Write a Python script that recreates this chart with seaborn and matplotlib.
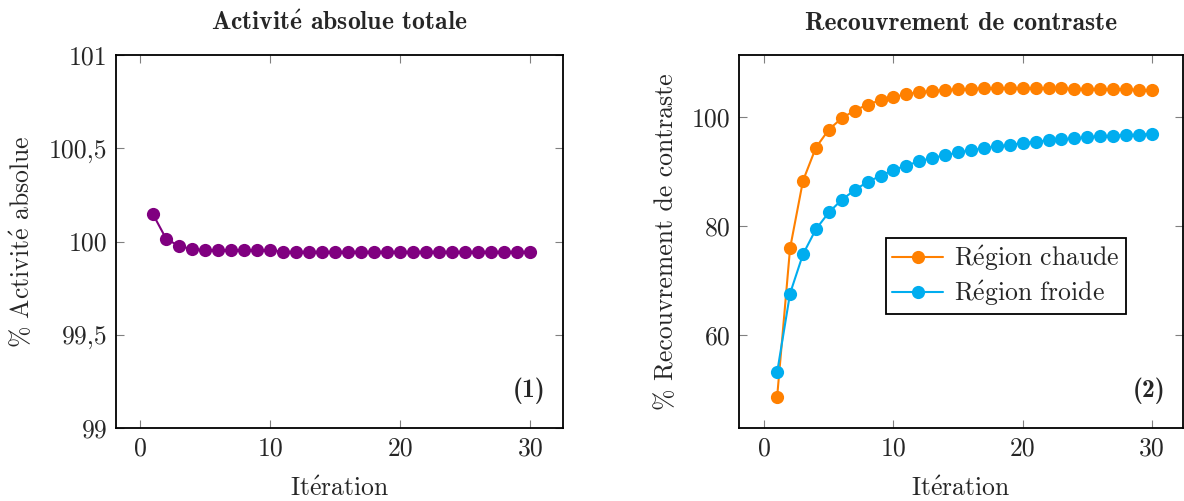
import numpy as np
import pandas as pd
import matplotlib
matplotlib.use("Agg")
import matplotlib.pyplot as plt
import seaborn as sns

# --- données ---
iterations = list(range(1, 31))
activite = [100.145, 100.015, 99.975, 99.96, 99.953, 99.953, 99.953, 99.953, 99.953, 99.953,
            99.945, 99.945, 99.945, 99.945, 99.945, 99.945, 99.945, 99.945, 99.945, 99.945,
            99.945, 99.945, 99.945, 99.945, 99.945, 99.945, 99.945, 99.945, 99.945, 99.945]
chaude = [48.6, 75.9, 88.3, 94.4, 97.7, 99.8, 101.2, 102.3, 103.1, 103.7,
          104.2, 104.6, 104.8, 105.0, 105.1, 105.2, 105.28, 105.28, 105.3, 105.3,
          105.3, 105.28, 105.28, 105.2, 105.2, 105.15, 105.1, 105.1, 105.0, 104.95]
froide = [53.1, 67.6, 74.8, 79.4, 82.5, 84.8, 86.6, 88.1, 89.2, 90.3,
          91.1, 91.9, 92.5, 93.0, 93.5, 93.9, 94.3, 94.6, 94.9, 95.2,
          95.5, 95.7, 95.9, 96.1, 96.3, 96.5, 96.6, 96.7, 96.8, 96.9]
# accents en mathtext (cmr10 n'a pas de é)
regions = [r"R$\acute{\mathrm{e}}$gion chaude", r"R$\acute{\mathrm{e}}$gion froide"]

sns.set_style("ticks")
plt.rcParams['font.family'] = ['cmr10', 'DejaVu Serif']
plt.rcParams['mathtext.fontset'] = 'cm'
plt.rcParams['axes.unicode_minus'] = False

df_act = pd.DataFrame({"Iteration": iterations, "Activite": activite})
df_rc = pd.DataFrame({
    "Iteration": iterations * 2,
    "Recouvrement": chaude + froide,
    "Region": [regions[0]] * 30 + [regions[1]] * 30,
})

fig = plt.figure(figsize=(11.84, 5.01), dpi=100)
ax1 = fig.add_axes([116 / 1184, 73 / 501, 447 / 1184, 373 / 501])
ax2 = fig.add_axes([739 / 1184, 73 / 501, 444 / 1184, 373 / 501])

fs = 18.5
bold = ['cmb10', 'DejaVu Serif']
sns.lineplot(data=df_act, x="Iteration", y="Activite", ax=ax1, color="#800080",
             marker="o", markersize=9.5, markeredgewidth=0, linewidth=1.5)
sns.lineplot(data=df_rc, x="Iteration", y="Recouvrement", hue="Region", ax=ax2,
             palette=["#FF8000", "#00ADEF"], marker="o", markersize=9.5,
             markeredgewidth=0, linewidth=1.5)

ax1.set_xlim(-1.85, 32.5)
ax1.set_ylim(99, 101)
ax1.set_yticks([99, 99.5, 100, 100.5, 101])
ax1.set_yticklabels(["99", "99,5", "100", "100,5", "101"])
ax2.set_xlim(-1.95, 32.4)
ax2.set_ylim(42.9, 111.4)
ax2.set_yticks([60, 80, 100])

for ax in (ax1, ax2):
    ax.set_xticks([0, 10, 20, 30])
    ax.tick_params(direction="in", length=6, width=0.8, color="#808080",
                   top=True, right=True, labelsize=fs, pad=6)
    for s in ax.spines.values():
        s.set_linewidth(1.3)
        s.set_color("black")
    ax.set_xlabel(r"It$\acute{\mathrm{e}}$ration", fontsize=fs, labelpad=12)

ax1.set_ylabel(r"% Activit$\acute{\mathrm{e}}$ absolue", fontsize=fs, labelpad=10)
ax2.set_ylabel("% Recouvrement de contraste", fontsize=fs, labelpad=10)
ax1.set_title(r"Activit$\mathbf{\acute{e}}$ absolue totale", fontsize=fs,
              family=bold, pad=18)
ax2.set_title("Recouvrement de contraste", fontsize=fs, family=bold, pad=18)

ax1.text(0.96, 0.10, "(1)", transform=ax1.transAxes, ha="right", va="center",
         fontsize=fs, family=bold)
ax2.text(0.96, 0.10, "(2)", transform=ax2.transAxes, ha="right", va="center",
         fontsize=fs, family=bold)

leg = ax2.legend(loc="upper left", bbox_to_anchor=(0.33, 0.51), fontsize=fs,
                 frameon=True, fancybox=False, edgecolor="black", framealpha=1,
                 handlelength=2.0, borderpad=0.25, labelspacing=0.2,
                 handletextpad=0.4, borderaxespad=0)
leg.get_frame().set_linewidth(1.3)
leg.set_title(None)

fig.savefig("out.png", dpi=100)
